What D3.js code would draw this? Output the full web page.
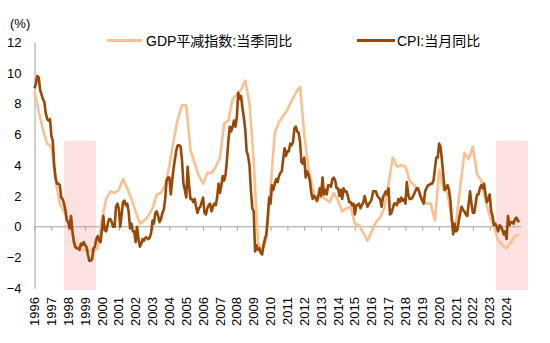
<!DOCTYPE html>
<html><head><meta charset="utf-8">
<script src="https://cdn.jsdelivr.net/npm/d3@7"></script>
<style>
html,body{margin:0;padding:0;background:#fff;}
svg text{font-family:"Liberation Sans",Arial,"Noto Sans CJK SC",sans-serif;fill:#000;}
</style></head>
<body><svg id="c" width="550" height="343"></svg>
<script>
// ---- data ----
const years = d3.range(1996, 2025);            // tick labels 1996..2024
const yTicks = [-4, -2, 0, 2, 4, 6, 8, 10, 12];
const seriesNames = ["GDP平减指数:当季同比", "CPI:当月同比"];
// CPI monthly YoY, Jan 1996 .. Oct 2024
const cpi = [
 9.0,9.3,9.8,9.7,8.9,8.6,8.3,8.1,7.4,7.0,6.9,7.0,
 5.9,5.6,4.0,3.2,2.8,2.8,2.7,1.9,1.8,1.5,1.1,0.4,
 0.3,-0.1,0.7,-0.3,-1.0,-1.3,-1.4,-1.4,-1.5,-1.1,-1.2,-1.0,
 -1.2,-1.3,-1.8,-2.2,-2.2,-2.1,-1.4,-1.3,-0.8,-0.6,-0.9,-1.0,
 -0.2,0.7,-0.2,-0.3,0.1,0.5,0.5,0.3,0.0,0.0,1.3,1.5,
 1.2,0.0,0.8,1.6,1.7,1.4,1.5,1.0,-0.1,0.2,-0.3,-0.3,
 -1.0,0.0,-0.8,-1.3,-1.1,-0.8,-0.9,-0.7,-0.7,-0.8,-0.7,-0.4,
 0.4,0.2,0.9,1.0,0.7,0.3,0.5,0.9,1.1,1.8,3.0,3.2,
 3.2,2.1,3.0,3.8,4.4,5.0,5.3,5.3,5.2,4.3,2.8,2.4,
 1.9,3.9,2.7,1.8,1.8,1.6,1.8,1.3,0.9,1.2,1.3,1.6,
 1.9,0.9,0.8,1.2,1.4,1.5,1.0,1.3,1.5,1.4,1.9,2.8,
 2.2,2.7,3.3,3.0,3.4,4.4,5.6,6.5,6.2,6.5,6.9,6.5,
 7.1,8.7,8.3,8.5,7.7,7.1,6.3,4.9,4.6,4.0,2.4,1.2,
 1.0,-1.6,-1.2,-1.5,-1.4,-1.7,-1.8,-1.2,-0.8,-0.5,0.6,1.9,
 1.5,2.7,2.4,2.8,3.1,2.9,3.3,3.5,3.6,4.4,5.1,4.6,
 4.9,4.9,5.4,5.3,5.5,6.4,6.5,6.2,6.1,5.5,4.2,4.1,
 4.5,3.2,3.6,3.4,3.0,2.2,1.8,2.0,1.9,1.7,2.0,2.5,
 2.0,3.2,2.1,2.4,2.1,2.7,2.7,2.6,3.1,3.2,3.0,2.5,
 2.5,2.0,2.4,1.8,2.5,2.3,2.3,2.0,1.6,1.6,1.4,1.5,
 0.8,1.4,1.4,1.5,1.2,1.4,1.6,2.0,1.6,1.3,1.5,1.6,
 1.8,2.3,2.3,2.3,2.0,1.9,1.8,1.3,1.9,2.1,2.3,2.1,
 2.5,0.8,0.9,1.2,1.5,1.5,1.4,1.8,1.6,1.9,1.7,1.8,
 1.5,2.9,2.1,1.8,1.8,1.9,2.1,2.3,2.5,2.5,2.2,1.9,
 1.7,1.5,2.3,2.5,2.7,2.7,2.8,2.8,3.0,3.8,4.5,4.5,
 5.4,5.2,4.3,3.3,2.4,2.5,2.7,2.4,1.7,0.5,-0.5,0.2,
 -0.3,-0.2,0.4,0.9,1.3,1.1,1.0,0.8,0.7,1.5,2.3,1.5,
 0.9,0.9,1.5,2.1,2.1,2.5,2.7,2.5,2.8,2.1,1.6,1.8,
 2.1,1.0,0.7,0.1,0.2,0.0,-0.3,0.1,0.0,-0.2,-0.5,-0.3,
 -0.8,0.7,0.1,0.3,0.3,0.2,0.5,0.6,0.4,0.3
];
// GDP deflator quarterly YoY, 1996Q1 .. 2024Q4
const gdpDeflator = [
 8.8,7.5,6.3,5.4,
 5.2,3.0,1.5,1.0,
 0.3,-0.5,-1.3,-1.5,
 -1.5,-1.5,-1.6,-1.4,
 0.5,1.8,2.3,2.2,
 2.4,3.1,2.5,1.8,
 1.0,0.2,0.4,0.7,
 1.2,2.1,2.2,2.7,
 4.0,5.6,7.0,7.9,
 7.9,5.0,4.1,3.3,
 2.8,3.5,3.5,3.9,
 4.5,6.7,6.9,8.3,
 8.6,8.9,9.5,8.0,
 4.3,-1.0,-1.6,-0.8,
 2.5,6.1,6.8,7.2,
 7.6,8.2,8.7,9.1,
 6.0,3.8,2.5,1.6,
 2.0,1.8,1.6,2.2,
 1.7,1.0,1.2,1.3,
 0.2,0.1,-0.4,-0.9,
 -0.3,0.3,0.6,1.2,
 2.8,4.5,3.9,4.0,
 3.9,3.0,2.7,2.4,
 1.8,1.5,1.5,0.4,
 3.7,2.4,2.2,0.4,
 0.2,2.6,4.8,4.4,
 5.2,3.4,3.0,1.7,
 0.7,0.0,-0.9,-1.2,
 -1.4,-1.0,-0.6,-0.5
];
// shaded deflation periods [start, end] (fractional years) and value span
const shadeStart = [1997.75, 2023.37];
const shadeEnd   = [1999.65, 2025.27];
const shadeLow = -4.1, shadeHigh = 5.6;

// ---- chart ----
const svg = d3.select("#c");
const x = d3.scaleLinear().domain([1996, 2025]).range([34.5, 34.5 + 29 * 16.86]);
const y = d3.scaleLinear().domain([-4, 12]).range([288.3, 42.1]);

const cpiPts = cpi.map((v, i) => ({t: 1996 + i / 12, v}));
const gdpPts = gdpDeflator.map((v, i) => ({t: 1996 + i / 4, v}));
const axisEnd = 1996 + (cpi.length) / 12 + 0.03;

// shading
svg.append("g").selectAll("rect").data(shadeStart).join("rect")
  .attr("x", (d) => x(d))
  .attr("width", (d, i) => x(shadeEnd[i]) - x(d))
  .attr("y", y(shadeHigh))
  .attr("height", y(shadeLow) - y(shadeHigh))
  .attr("fill", "#fde1e1");

// y axis
const yAxis = d3.axisLeft(y).tickValues(yTicks).tickSize(0).tickPadding(13).tickFormat(d3.format("d"));
const gy = svg.append("g").attr("transform", "translate(34.5,0)").call(yAxis);
gy.select(".domain").attr("stroke", "#a0a0a0").attr("stroke-width", 1);
gy.selectAll("text").style("font-size", "13px");

// x axis at zero
const xAxis = d3.axisBottom(x).tickValues(years).tickSize(4).tickFormat("");
const gx = svg.append("g").attr("transform", `translate(0,${y(0)})`).call(xAxis);
gx.select(".domain").attr("d", `M${x(1996)},0H${x(axisEnd)}`).attr("stroke", "#a0a0a0");
gx.selectAll(".tick line").attr("stroke", "#a0a0a0");

// x labels (rotated)
svg.append("g").selectAll("text").data(years).join("text")
  .attr("transform", d => `translate(${x(d)},297) rotate(-90)`)
  .attr("text-anchor", "end")
  .attr("dy", "0.35em")
  .style("font-size", "13px")
  .text(d => d);

// lines
const line = d3.line().x(d => x(d.t)).y(d => y(d.v));
svg.append("path").datum(gdpPts).attr("d", line)
  .attr("fill", "none").attr("stroke", "#fac090").attr("stroke-width", 2.6).attr("stroke-linejoin", "round");
svg.append("path").datum(cpiPts).attr("d", line)
  .attr("fill", "none").attr("stroke", "#984807").attr("stroke-width", 2.6).attr("stroke-linejoin", "round");

// unit
svg.append("text").attr("x", 10).attr("y", 28).style("font-size", "13px").text("(%)");

// legend
const legend = [
  {name: seriesNames[0], color: "#fac090", x1: 107, x2: 142, tx: 146},
  {name: seriesNames[1], color: "#984807", x1: 357, x2: 395, tx: 397}
];
const lg = svg.append("g");
lg.selectAll("line").data(legend).join("line")
  .attr("x1", d => d.x1).attr("x2", d => d.x2).attr("y1", 40.5).attr("y2", 40.5)
  .attr("stroke", d => d.color).attr("stroke-width", 3);
lg.selectAll("text").data(legend).join("text")
  .attr("x", d => d.tx).attr("y", 45.5)
  .style("font-size", "14px")
  .text(d => d.name);
</script>
</body></html>
